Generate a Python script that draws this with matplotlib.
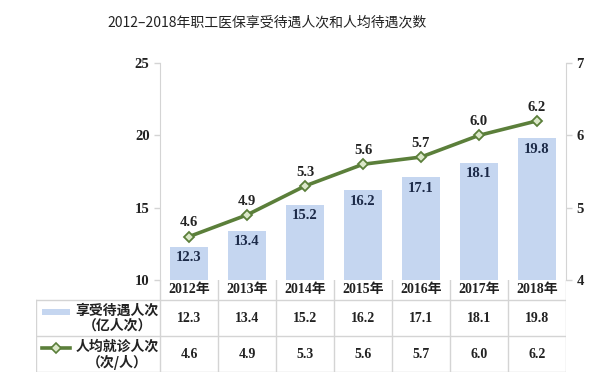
import matplotlib
matplotlib.use("Agg")
import matplotlib.pyplot as plt
from matplotlib.patches import Rectangle
from matplotlib.lines import Line2D

plt.rcParams["font.family"] = ["Noto Sans CJK SC", "DejaVu Sans"]

years = ["2012年", "2013年", "2014年", "2015年", "2016年", "2017年", "2018年"]
visits = [12.3, 13.4, 15.2, 16.2, 17.1, 18.1, 19.8]        # 亿人次
per_capita = [4.6, 4.9, 5.3, 5.6, 5.7, 6.0, 6.2]           # 次/人
bar_name = ["享受待遇人次", "（亿人次）"]
line_name = ["人均就诊人次", "（次/人）"]
title = "2012–2018年职工医保享受待遇人次和人均待遇次数"

BAR = "#c5d6f0"
GREEN = "#5b7f3a"
GRID = "#d4d4d4"
NUM = dict(family=["Liberation Serif", "Noto Sans CJK SC"], fontweight="bold")

W, H = 616, 390
fig = plt.figure(figsize=(W / 100, H / 100), dpi=100)

# plot area in pixels
px_l, px_r, px_t, px_b = 160, 566, 63, 280
ax = fig.add_axes([px_l / W, 1 - px_b / H, (px_r - px_l) / W, (px_b - px_t) / H])
x = list(range(len(years)))
ax.bar(x, visits, width=0.64, color=BAR, zorder=2)
ax.set_xlim(-0.5, len(years) - 0.5)
ax.set_ylim(10, 25)
ax.set_yticks([10, 15, 20, 25])
ax.set_xticks([])
for v, xi in zip(visits, x):
    ax.text(xi, v - 0.3, f"{v:.1f}", ha="center", va="top", fontsize=10.5,
            color="#1c2a48", zorder=4, **NUM)

ax2 = ax.twinx()
ax2.plot(x, per_capita, color=GREEN, lw=2.6, marker="D", ms=5.5,
         mfc="#dbe8c8", mec=GREEN, mew=1.3, zorder=3)
ax2.set_ylim(4, 7)
ax2.set_yticks([4, 5, 6, 7])
for v, xi in zip(per_capita, x):
    ax2.text(xi, v + 0.1, f"{v:.1f}", ha="center", va="bottom", fontsize=10.5,
             color="#222222", **NUM)

for a in (ax, ax2):
    for s in ("top", "bottom"):
        a.spines[s].set_visible(False)
    a.spines["left"].set_color(GRID)
    a.spines["right"].set_color(GRID)
    a.tick_params(axis="y", colors=GRID, length=4, width=1, labelsize=10.5,
                  labelcolor="#222222")
    for lbl in a.get_yticklabels():
        lbl.set_fontfamily(NUM["family"])
        lbl.set_fontweight("bold")
ax.spines["right"].set_visible(False)
ax2.spines["left"].set_visible(False)

# data table below the plot
t_l, t_b = 36, 372
head_h, row_h = 20, 36
unit = (px_r - px_l) / len(years)
tax = fig.add_axes([t_l / W, 1 - t_b / H, (px_r - t_l) / W, (t_b - px_b) / H])
tax.set_xlim(-0.5 - (px_l - t_l) / unit, len(years) - 0.5)
tax.set_ylim(0, head_h + 2 * row_h)
tax.axis("off")
x0 = -0.5 - (px_l - t_l) / unit
top = head_h + 2 * row_h
lk = dict(color=GRID, lw=1)
tax.plot([x0, len(years) - 0.5], [2 * row_h] * 2, **lk)
tax.plot([x0, len(years) - 0.5], [row_h] * 2, **lk)
tax.plot([x0, len(years) - 0.5], [0, 0], **lk)
tax.plot([x0, x0], [0, 2 * row_h], **lk)
for i in range(len(years) + 1):
    tax.plot([i - 0.5, i - 0.5], [0, top], **lk)

for xi, yr, a, b in zip(x, years, visits, per_capita):
    tax.text(xi, 2 * row_h + head_h / 2, yr, ha="center", va="center",
             fontsize=10, color="#222222", **NUM)
    tax.text(xi, row_h * 1.5, f"{a:.1f}", ha="center", va="center",
             fontsize=10, color="#222222", **NUM)
    tax.text(xi, row_h * 0.5, f"{b:.1f}", ha="center", va="center",
             fontsize=10, color="#222222", **NUM)

# legend keys inside first column
k0 = x0 + 6 / unit
k1 = x0 + 34 / unit
tax.add_patch(Rectangle((k0, row_h * 1.5 + 3.5), k1 - k0, 6, color=BAR, lw=0))
tax.add_line(Line2D([k0, k1], [row_h * 0.5 + 6.5] * 2, color=GREEN, lw=2.6))
tax.plot([(k0 + k1) / 2], [row_h * 0.5 + 6.5], marker="D", ms=5, mfc="#dbe8c8",
         mec=GREEN, mew=1.2)
cx = x0 + (117 - t_l) / unit
for r, names in ((1.5, bar_name), (0.5, line_name)):
    tax.text(cx, row_h * r + 7, names[0], ha="center", va="center", fontsize=10,
             fontweight="bold", color="#222222")
    tax.text(cx, row_h * r - 8, names[1], ha="center", va="center", fontsize=10,
             fontweight="bold", color="#222222")

fig.text(267 / W, 1 - 23 / H, title, ha="center", va="center", fontsize=10,
         color="#222222")

fig.savefig("out.png", dpi=100, facecolor="white")
